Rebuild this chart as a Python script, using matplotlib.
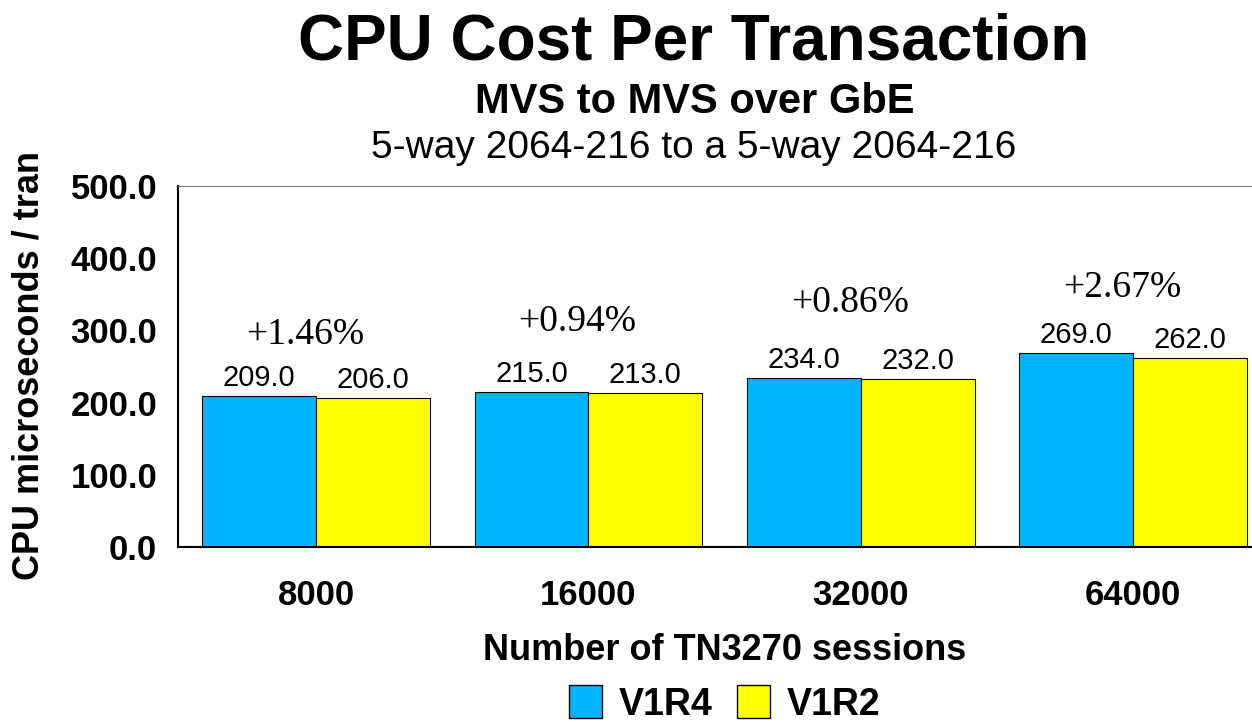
import matplotlib
matplotlib.use("Agg")
import matplotlib.pyplot as plt
import numpy as np
from matplotlib.patches import Patch

sessions = ["8000", "16000", "32000", "64000"]
v1r4 = [209.0, 215.0, 234.0, 269.0]
v1r2 = [206.0, 213.0, 232.0, 262.0]
pct_labels = ["+1.46%", "+0.94%", "+0.86%", "+2.67%"]
pct_y = [294, 312, 338, 359]

plt.rcParams['font.family'] = ['Liberation Sans', 'DejaVu Sans']

W, H = 1252, 724
fig = plt.figure(figsize=(W / 100, H / 100), dpi=100)
ax = fig.add_axes([178 / W, 1 - 547 / H, (W - 178) / W, (547 - 186) / H])

x = np.arange(len(sessions))
bw = 0.418
b1 = ax.bar(x - bw / 2, v1r4, bw, color='#00B4FF', edgecolor='black', linewidth=0.8)
b2 = ax.bar(x + bw / 2, v1r2, bw, color='#FFFF00', edgecolor='black', linewidth=0.8)

# value labels above each bar
for bars in (b1, b2):
    for b in bars:
        ax.annotate(f"{b.get_height():.1f}", (b.get_x() + b.get_width() / 2, b.get_height()),
                    xytext=(0, 3), textcoords='offset points',
                    ha='center', va='bottom', fontsize=21)

for i, (lab, yy) in enumerate(zip(pct_labels, pct_y)):
    ax.text(i - 0.04, yy, lab, ha='center', va='center', fontsize=27,
            family='Liberation Serif')

ax.set_xlim(-0.507, 3.437)
ax.set_ylim(0, 500)
ax.set_yticks(np.arange(0, 501, 100))
ax.set_yticklabels([f"{v:.1f}" for v in range(0, 501, 100)], fontsize=25, fontweight='bold')
ax.set_xticks(x)
ax.set_xticklabels(sessions, fontsize=25, fontweight='bold')
ax.tick_params(axis='y', length=0, pad=15)
ax.tick_params(axis='x', length=0, pad=23)
ax.spines['right'].set_visible(False)
ax.spines['top'].set_color('#808080')
ax.spines['left'].set_linewidth(1.5)
ax.spines['bottom'].set_linewidth(1.5)

ax.set_xlabel("Number of TN3270 sessions", fontsize=26, fontweight='bold')
ax.set_ylabel("CPU microseconds / tran", fontsize=26, fontweight='bold')
ax.xaxis.set_label_coords((725 - 178) / (W - 178), -(650 - 547) / (547 - 186))
ax.xaxis.label.set_va('center')
ax.yaxis.set_label_coords(-(178 - 29) / (W - 178), (547 - 365) / (547 - 186))
ax.yaxis.label.set_va('center')

fig.text(694 / W, 1 - 59 / H, "CPU Cost Per Transaction", ha='center', va='baseline',
         fontsize=46, fontweight='bold')
fig.text(695 / W, 1 - 113 / H, "MVS to MVS over GbE", ha='center', va='baseline',
         fontsize=30, fontweight='bold')
fig.text(694 / W, 1 - 158 / H, "5-way 2064-216 to a 5-way 2064-216", ha='center', va='baseline',
         fontsize=28)

handles = [Patch(facecolor='#00B4FF', edgecolor='black', label='V1R4'),
           Patch(facecolor='#FFFF00', edgecolor='black', label='V1R2')]
fig.legend(handles=handles, loc='center', bbox_to_anchor=(725 / W, 1 - 704 / H), ncol=2,
           frameon=False, prop={'weight': 'bold', 'size': 27}, handlelength=0.88,
           handleheight=0.95, columnspacing=0.65, handletextpad=0.45, borderpad=0)

fig.savefig("out.png", dpi=100)
